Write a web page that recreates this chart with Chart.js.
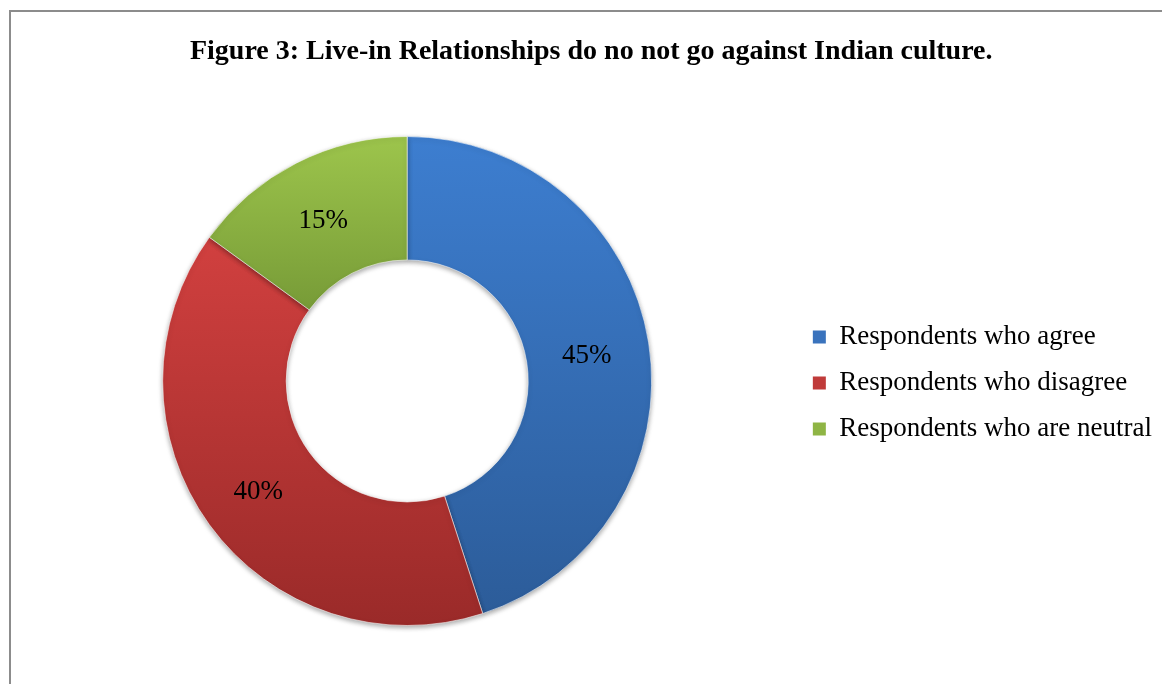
<!DOCTYPE html>
<html>
<head>
<meta charset="utf-8">
<script src="https://cdn.jsdelivr.net/npm/chart.js@4/dist/chart.umd.min.js"></script>
<style>
  html, body { margin: 0; padding: 0; background: #ffffff; overflow: hidden; }
  #frame { position: absolute; left: 9px; top: 10px; width: 1400px; height: 900px; border: 2px solid #8c8c8c; box-sizing: border-box; }
  #c { position: absolute; left: 0; top: 0; }
</style>
</head>
<body>
<div id="frame"></div>
<canvas id="c" width="1162" height="684"></canvas>
<script>
const titleText = 'Figure 3: Live-in Relationships do no not go against Indian culture.';
const categories = ['Respondents who agree', 'Respondents who disagree', 'Respondents who are neutral'];
const values = [45, 40, 15];
const valueLabels = ['45%', '40%', '15%'];
const topColors = ['#3d7ed0', '#d1403f', '#9dc54c'];
const bottomColors = ['#2c5c99', '#9a2a29', '#779b37'];
const legendColors = ['#3a73bd', '#c03b3a', '#8fb545'];

const SERIF = "'Liberation Serif', 'Times New Roman', serif";
const CUTOUT = 0.495;

function sliceGradient(context) {
  const chart = context.chart;
  const i = context.dataIndex;
  const area = chart.chartArea;
  if (!area) return topColors[i];
  const cx = (area.left + area.right) / 2, cy = (area.top + area.bottom) / 2;
  const R = Math.min(area.right - area.left, area.bottom - area.top) / 2;
  const r = R * CUTOUT;
  const total = values.reduce((a, b) => a + b, 0);
  let start = 0;
  for (let k = 0; k < i; k++) start += values[k] / total * Math.PI * 2;
  const end = start + values[i] / total * Math.PI * 2;
  const angles = [start, end];
  for (let t = 0; t <= Math.PI * 2; t += Math.PI) { if (t > start && t < end) angles.push(t); }
  let ymin = Infinity, ymax = -Infinity;
  angles.forEach(a => { [R, r].forEach(rad => { const y = cy - rad * Math.cos(a); ymin = Math.min(ymin, y); ymax = Math.max(ymax, y); }); });
  const g = chart.ctx.createLinearGradient(0, ymin, 0, ymax);
  g.addColorStop(0, topColors[i]);
  g.addColorStop(1, bottomColors[i]);
  return g;
}

const shadowPlugin = {
  id: 'shadow',
  beforeDatasetsDraw(chart) {
    const ctx = chart.ctx;
    ctx.save();
    ctx.shadowColor = 'rgba(0,0,0,0.35)';
    ctx.shadowBlur = 5;
    ctx.shadowOffsetX = 0;
    ctx.shadowOffsetY = 2;
  },
  afterDatasetsDraw(chart) {
    chart.ctx.restore();
  }
};

const labelPlugin = {
  id: 'sliceLabels',
  afterDatasetsDraw(chart) {
    const ctx = chart.ctx;
    const meta = chart.getDatasetMeta(0);
    ctx.save();
    ctx.font = '27px ' + SERIF;
    ctx.fillStyle = '#000000';
    ctx.textAlign = 'center';
    ctx.textBaseline = 'middle';
    meta.data.forEach((arc, i) => {
      const p = arc.tooltipPosition();
      ctx.fillText(valueLabels[i], p.x - 1, p.y + 3);
    });
    ctx.restore();
  }
};

new Chart(document.getElementById('c'), {
  type: 'doughnut',
  data: {
    labels: categories,
    datasets: [{
      data: values,
      backgroundColor: sliceGradient,
      borderColor: 'rgba(255,255,255,0.55)',
      borderWidth: 1,
      hoverOffset: 0
    }]
  },
  options: {
    responsive: false,
    animation: false,
    cutout: (CUTOUT * 100) + '%',
    rotation: 0,
    layout: { padding: { left: 20.5, right: 0, top: 0, bottom: 58 } },
    plugins: {
      title: {
        display: true,
        text: titleText,
        color: '#000000',
        font: { family: SERIF, size: 28, weight: 'bold', lineHeight: 1.2 },
        padding: { top: 35.2, bottom: 67.2 }
      },
      legend: {
        display: true,
        position: 'right',
        align: 'center',
        title: {
          display: true,
          text: ' ',
          font: { family: SERIF, size: 20, lineHeight: 1 },
          padding: { top: 60, bottom: 60 }
        },
        labels: {
          color: '#000000',
          font: { family: SERIF, size: 27 },
          boxWidth: 13,
          boxHeight: 13,
          padding: 19,
          generateLabels(chart) {
            return categories.map((c, i) => ({
              text: c,
              fillStyle: legendColors[i],
              strokeStyle: legendColors[i],
              lineWidth: 0,
              hidden: false,
              index: i,
              fontColor: '#000000'
            }));
          }
        }
      },
      tooltip: { enabled: false }
    }
  },
  plugins: [shadowPlugin, labelPlugin]
});
</script>
</body>
</html>
